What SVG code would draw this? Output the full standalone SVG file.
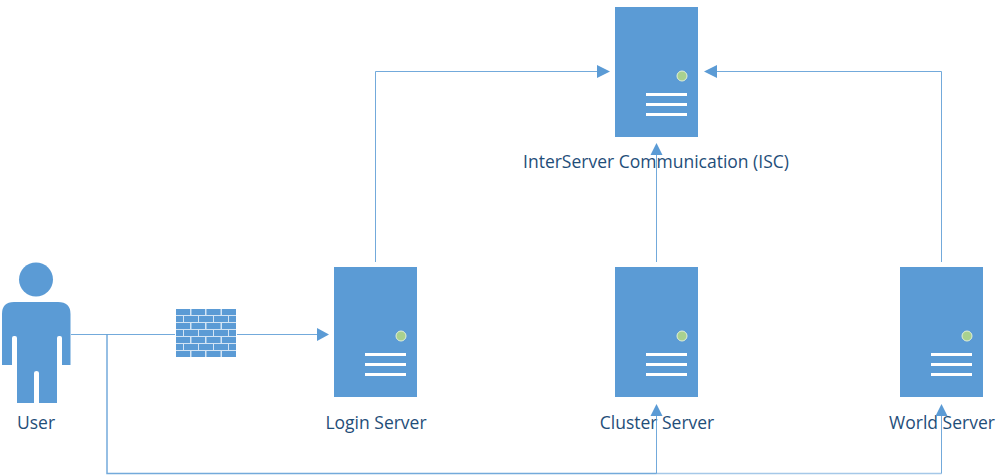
<svg xmlns="http://www.w3.org/2000/svg" width="1006" height="475" viewBox="0 0 1006 475">
<style>
.b{fill:#5b9bd5}
.w{fill:#fff}
.d{fill:#a9d18e;stroke:#e2efd9;stroke-width:1}
.c{fill:none;stroke:#5b9bd5;stroke-width:1;opacity:.85}
.c2{fill:none;stroke:#5b9bd5;stroke-width:1.500;opacity:.85}
.t{font-family:"Open Sans","Noto Sans","Liberation Sans",sans-serif;font-size:17.500px;fill:#1f4e79;text-anchor:middle}
.h{fill:#5b9bd5}
</style>
<defs>
<g id="srv">
<rect class="b" x="0" y="0" width="83" height="130"/>
<circle class="d" cx="67" cy="69" r="5"/>
<rect class="w" x="31" y="86" width="41" height="3"/>
<rect class="w" x="31" y="96" width="41" height="3"/>
<rect class="w" x="31" y="106" width="41" height="3"/>
</g>
</defs>
<g id="isc"><use href="#srv" x="615" y="7"/><text class="t" x="656" y="168">InterServer Communication (ISC)</text></g>
<g id="login"><use href="#srv" x="334" y="267"/><text class="t" x="376" y="429">Login Server</text></g>
<g id="cluster"><use href="#srv" x="615" y="267"/><text class="t" x="657" y="429">Cluster Server</text></g>
<g id="world"><use href="#srv" x="900" y="267"/><text class="t" x="942" y="429">World Server</text></g>
<g id="connectors">
<path class="c" d="M375.500 262V71.500H600"/>
<path class="c" d="M656.500 262V148"/>
<path class="c" d="M941.500 262V71.500H715"/>
<path class="c" d="M71 334.500H175"/>
<path class="c" d="M237 334.500H318"/>
<path class="c2" d="M107 334.500V473.500H656.500"/>
<path class="c" d="M656.500 473.500V415"/>
<path class="c2" d="M656.500 473.500H941.500" style="opacity:.55"/>
<path class="c" d="M941.500 473.500V415"/>
<polygon class="h" points="610,71.500 597,65 597,78"/>
<polygon class="h" points="704,71.500 717,65 717,78"/>
<polygon class="h" points="656.500,143 650.500,155 662.500,155"/>
<polygon class="h" points="329,334.500 317,328 317,341"/>
<polygon class="h" points="656.500,404 650.500,416 662.500,416"/>
<polygon class="h" points="941.500,404 935.500,416 947.500,416"/>
</g>
<g id="user">
<circle class="b" cx="36" cy="279.500" r="17"/>
<path class="b" d="M14 302H58Q70.500 302 70.500 314V365H62V338Q62 336 60 336H59Q57 336 57 338V403H39V373Q39 371 36.500 371Q34 371 34 373V403H17V338Q17 336 15 336H14Q12 336 12 338V365H2V314Q2 302 14 302Z"/>
<text class="t" x="36" y="429">User</text>
</g>
<g id="firewall">
<rect x="176" y="309" width="60" height="48" fill="#d3e4f4"/>
<g class="b">
<rect x="176" y="309" width="14" height="6"/><rect x="191.500" y="309" width="13.500" height="6"/><rect x="206.500" y="309" width="14" height="6"/><rect x="222" y="309" width="14" height="6"/>
<rect x="176" y="316" width="7" height="6"/><rect x="184" y="316" width="14" height="6"/><rect x="199" y="316" width="14" height="6"/><rect x="214" y="316" width="14" height="6"/><rect x="229" y="316" width="7" height="6"/>
<rect x="176" y="323" width="14" height="6"/><rect x="191.500" y="323" width="13.500" height="6"/><rect x="206.500" y="323" width="14" height="6"/><rect x="222" y="323" width="14" height="6"/>
<rect x="176" y="330" width="7" height="6"/><rect x="184" y="330" width="14" height="6"/><rect x="199" y="330" width="14" height="6"/><rect x="214" y="330" width="14" height="6"/><rect x="229" y="330" width="7" height="6"/>
<rect x="176" y="337" width="14" height="6"/><rect x="191.500" y="337" width="13.500" height="6"/><rect x="206.500" y="337" width="14" height="6"/><rect x="222" y="337" width="14" height="6"/>
<rect x="176" y="344" width="7" height="6"/><rect x="184" y="344" width="14" height="6"/><rect x="199" y="344" width="14" height="6"/><rect x="214" y="344" width="14" height="6"/><rect x="229" y="344" width="7" height="6"/>
<rect x="176" y="351" width="14" height="6"/><rect x="191.500" y="351" width="13.500" height="6"/><rect x="206.500" y="351" width="14" height="6"/><rect x="222" y="351" width="14" height="6"/>
</g>
</g>
</svg>
